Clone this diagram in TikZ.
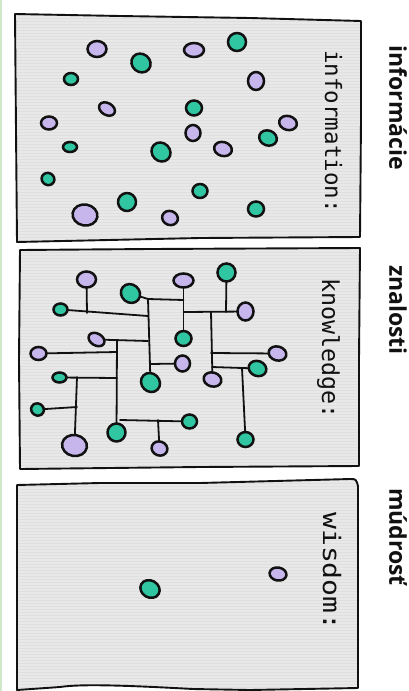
\documentclass[tikz,border=0pt]{standalone}
\usepackage{fontspec}
\newfontfamily\labelfont{Open Sans}
\newfontfamily\handfont{DejaVu Sans Mono}
\usetikzlibrary{shapes.geometric}

\definecolor{panelgray}{HTML}{E8E8E8}
\definecolor{stripe}{HTML}{DFDFDF}
\definecolor{ink}{HTML}{111111}
\definecolor{lilac}{HTML}{C7B6EC}
\definecolor{mint}{HTML}{30C6A2}
\definecolor{edgegreen}{HTML}{CFE9C8}

\tikzset{
  blob/.style={ellipse, draw=ink, line width=2.5pt, inner sep=0pt, outer sep=0pt},
  lilacdot/.style={blob, fill=lilac},
  mintdot/.style={blob, fill=mint},
  link/.style={draw=ink, line width=1.8pt, line cap=round},
  panel/.style={fill=panelgray, draw=ink, line width=1.9pt, line join=round,
    path picture={\foreach \yy in {0,3,...,693} \draw[stripe, line width=0.6pt] (0,\yy) -- (408,\yy);}},
  hand/.style={font=\handfont\fontsize{22.5}{22.5}\selectfont, text=ink, rotate=-90,
    anchor=base west, inner sep=0pt},
  heading/.style={font=\labelfont\bfseries\fontsize{23}{23}\selectfont, text=ink, rotate=-90}
}

% the scattered field of dots, shared by the first two panels
\newcommand\dotfield{%
  \node[lilacdot, minimum width=19pt, minimum height=16pt] (p1) at (97,49) {};
  \node[lilacdot, minimum width=20pt, minimum height=14pt] (p2) at (194,50) {};
  \node[lilacdot, minimum width=16pt, minimum height=18pt] (p3) at (256,81) {};
  \node[lilacdot, minimum width=17pt, minimum height=12pt, rotate=-30] (p4) at (107,109) {};
  \node[lilacdot, minimum width=16pt, minimum height=13pt] (p5) at (49,123) {};
  \node[lilacdot, minimum width=18pt, minimum height=14pt, rotate=-15] (p6) at (288,123) {};
  \node[lilacdot, minimum width=15pt, minimum height=16pt] (p7) at (193,133) {};
  \node[lilacdot, minimum width=18pt, minimum height=14pt, rotate=-15] (p8) at (223,149) {};
  \node[lilacdot, minimum width=25pt, minimum height=21pt, rotate=-10] (p9) at (85,215) {};
  \node[lilacdot, minimum width=16pt, minimum height=14pt, rotate=-20] (p10) at (170,218) {};
  \node[mintdot, minimum width=18pt, minimum height=18pt] (t1) at (237,42) {};
  \node[mintdot, minimum width=20pt, minimum height=18pt, rotate=-40] (t2) at (141,63) {};
  \node[mintdot, minimum width=14pt, minimum height=12pt] (t3) at (71,79) {};
  \node[mintdot, minimum width=16pt, minimum height=15pt] (t4) at (194,108) {};
  \node[mintdot, minimum width=14pt, minimum height=10pt] (t5) at (70,147) {};
  \node[mintdot, minimum width=18pt, minimum height=15pt, rotate=-20] (t6) at (268,138) {};
  \node[mintdot, minimum width=20pt, minimum height=18pt, rotate=-45] (t7) at (161,152) {};
  \node[mintdot, minimum width=13pt, minimum height=12pt, rotate=-30] (t8) at (48,179) {};
  \node[mintdot, minimum width=15pt, minimum height=14pt] (t9) at (200,191) {};
  \node[mintdot, minimum width=18pt, minimum height=18pt, rotate=-40] (t10) at (127,202) {};
  \node[mintdot, minimum width=16pt, minimum height=15pt] (t11) at (256,209) {};
}

\begin{document}
\begin{tikzpicture}[x=1pt, y=-1pt]
\useasboundingbox (0,0) rectangle (408,691);
\fill[white] (0,0) rectangle (408,691);
\draw[edgegreen, line width=1.5pt] (1.2,0) -- (1.2,691);

% three hand-drawn frames
\path[panel] (15,14) -- (120,16) -- (250,18) -- (361,21) -- (361,120) -- (360,237)
  -- (200,238) -- (17,242) -- (16,130) -- cycle;
\path[panel] (20,250) -- (150,249) -- (360,248) -- (359,360) -- (359,466)
  -- (200,467) -- (20,469) -- (19,360) -- cycle;
\path[panel] (17,485) -- (100,483) -- (200,483) -- (350,479)
  .. controls (356,479) .. (358,486) -- (358,688) -- (250,690) -- (193,689)
  .. controls (120,685) and (80,684) .. (60,687) -- (17,690) -- cycle;

% information: loose dots
\begin{scope}[name prefix=i-]
  \dotfield
\end{scope}

% knowledge: the same dots, linked
\begin{scope}[shift={(-10.5,230.5)}, name prefix=k-]
  \dotfield
\end{scope}

\coordinate (ja) at (87,313);
\coordinate (jb) at (148,316);
\coordinate (jc) at (183.5,300);
\coordinate (jd) at (148,299);
\coordinate (je) at (148,341);
\coordinate (jf) at (150,364);
\coordinate (jg) at (183.5,312);
\coordinate (jh) at (226,312);
\coordinate (ji) at (211,312);
\coordinate (jj) at (211,353);
\coordinate (jk) at (212,367);
\coordinate (jl) at (242,368);
\coordinate (jm) at (117,352);
\coordinate (jn) at (117,341);
\coordinate (jo) at (117,378);
\coordinate (jp) at (77,377);
\coordinate (jq) at (77,407);
\coordinate (jr) at (120,420);
\coordinate (js) at (158,420);

\draw[link] (k-p1) -- (ja);
\draw[link] (k-t3) -- (jb);
\draw[link] (k-t2) -- (jd) -- (jc);
\draw[link] (jd) -- (k-t7);
\draw[link] (k-p4) -- (je);
\draw[link] (jf) -- (k-p7);
\draw[link] (k-p2) -- (k-t4);
\draw[link] (jg) -- (k-p3);
\draw[link] (k-t1) -- (jh);
\draw[link] (ji) -- (k-p8);
\draw[link] (jj) -- (k-p6);
\draw[link] (jk) -- (k-t6);
\draw[link] (jl) -- (k-t11);
\draw[link] (k-p5) -- (jm);
\draw[link] (jn) -- (k-t10);
\draw[link] (k-t5) -- (jo);
\draw[link] (jp) -- (k-p9);
\draw[link] (k-t8) -- (jq);
\draw[link] (jr) -- (k-t9);
\draw[link] (js) -- (k-p10);

% wisdom: two dots left
\node[mintdot, minimum width=20pt, minimum height=17pt, rotate=-30] (w-t) at (150,589) {};
\node[lilacdot, minimum width=17pt, minimum height=13pt, rotate=-10] (w-p) at (278,574) {};

% handwritten captions inside the frames
\node[hand] (cap-info) at (325,50) {information:};
\node[hand, font=\handfont\fontsize{23.3}{23.3}\selectfont] (cap-know) at (322,278) {knowledge:};
\node[hand, font=\handfont\fontsize{24}{24}\selectfont, xscale=1.17] (cap-wis) at (323,512) {wisdom:};

% headings beside the frames
\node[heading] (head-info) at (398,108) {informácie};
\node[heading] (head-know) at (398,310) {znalosti};
\node[heading] (head-wis) at (398,537) {múdrosť};
\end{tikzpicture}
\end{document}
